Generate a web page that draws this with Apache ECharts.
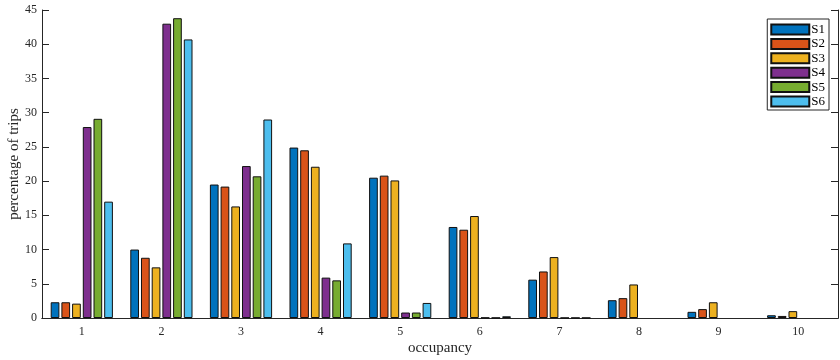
<!DOCTYPE html>
<html>
<head>
<meta charset="utf-8">
<script src="https://cdn.jsdelivr.net/npm/echarts@6/dist/echarts.min.js"></script>
<style>html,body{margin:0;padding:0;background:#fff;}#c{width:840px;height:360px;}</style>
</head>
<body>
<div id="c"></div>
<script>
const categories = ['1','2','3','4','5','6','7','8','9','10'];
const seriesNames = ['S1','S2','S3','S4','S5','S6'];
const S1 = [2.3, 10.0, 19.5, 24.9, 20.5, 13.3, 5.6, 2.6, 0.9, 0.4];
const S2 = [2.3, 8.8, 19.2, 24.5, 20.8, 12.9, 6.8, 2.9, 1.3, 0.3];
const S3 = [2.1, 7.4, 16.3, 22.1, 20.1, 14.9, 8.9, 4.9, 2.3, 1.0];
const S4 = [27.9, 43.0, 22.2, 5.9, 0.8, 0.05, 0.02, 0, 0, 0];
const S5 = [29.1, 43.8, 20.7, 5.5, 0.8, 0.03, 0.02, 0, 0, 0];
const S6 = [17.0, 40.7, 29.0, 10.9, 2.2, 0.25, 0.02, 0, 0, 0];
const yTicks = [0,5,10,15,20,25,30,35,40,45];
const values = [S1,S2,S3,S4,S5,S6];
const colors = ['#0072BD','#D95319','#EDB120','#7E2F8E','#77AC30','#4DBEEE'];
const font = 'Liberation Serif';
const axisCol = '#262626';

const chart = echarts.init(document.getElementById('c'));
chart.setOption({
  animation: false,
  color: colors,
  grid: {left: 42, right: 2, top: 10, bottom: 42, containLabel: false, outerBoundsMode: 'none'},
  legend: {
    orient: 'vertical', right: 11, top: 19,
    icon: 'rect',
    itemWidth: 38, itemHeight: 10, itemGap: 1.4,
    padding: [4, 4, 2, 3],
    borderColor: axisCol, borderWidth: 1, backgroundColor: '#fff',
    textStyle: {fontFamily: font, fontSize: 13, color: '#000', padding: [0,0,0,-3]},
    data: seriesNames
  },
  xAxis: [{
    type: 'category', data: categories, position: 'bottom',
    name: 'occupancy', nameLocation: 'middle', nameGap: 23, nameMoveOverlap: false,
    nameTextStyle: {fontFamily: font, fontSize: 15, color: axisCol},
    axisLine: {lineStyle: {color: axisCol, width: 1}},
    axisTick: {inside: true, alignWithLabel: true, length: 7, lineStyle: {color: axisCol}},
    axisLabel: {fontFamily: font, fontSize: 12, color: axisCol, margin: 8},
    splitLine: {show: false}
  }, {
    type: 'category', data: categories, position: 'top',
    axisLine: {lineStyle: {color: axisCol, width: 1}},
    axisTick: {inside: true, alignWithLabel: true, length: 7, lineStyle: {color: axisCol}},
    axisLabel: {show: false}, splitLine: {show: false}
  }],
  yAxis: [{
    type: 'value', min: 0, max: 45, interval: 5, position: 'left',
    name: 'percentage of trips', nameLocation: 'middle', nameGap: 20, nameMoveOverlap: false,
    nameTextStyle: {fontFamily: font, fontSize: 15, color: axisCol},
    axisLine: {show: true, lineStyle: {color: axisCol, width: 1}},
    axisTick: {show: true, inside: true, length: 7, lineStyle: {color: axisCol}},
    axisLabel: {fontFamily: font, fontSize: 12, color: axisCol, margin: 5,
      formatter: v => yTicks.includes(v) ? String(v) : ''},
    splitLine: {show: false}
  }, {
    type: 'value', min: 0, max: 45, interval: 5, position: 'right',
    axisLine: {show: true, lineStyle: {color: axisCol, width: 1}},
    axisTick: {show: true, inside: true, length: 7, lineStyle: {color: axisCol}},
    axisLabel: {show: false}, splitLine: {show: false}
  }],
  series: seriesNames.map((n, i) => ({
    name: n, type: 'bar', xAxisIndex: 0, yAxisIndex: 0,
    data: values[i].map(v => v === 0 ? {value: 0, itemStyle: {borderWidth: 0}} : v),
    barWidth: 8.7, barGap: '23%',
    itemStyle: {color: colors[i], borderColor: '#111', borderWidth: 1}
  }))
});
</script>
</body>
</html>
